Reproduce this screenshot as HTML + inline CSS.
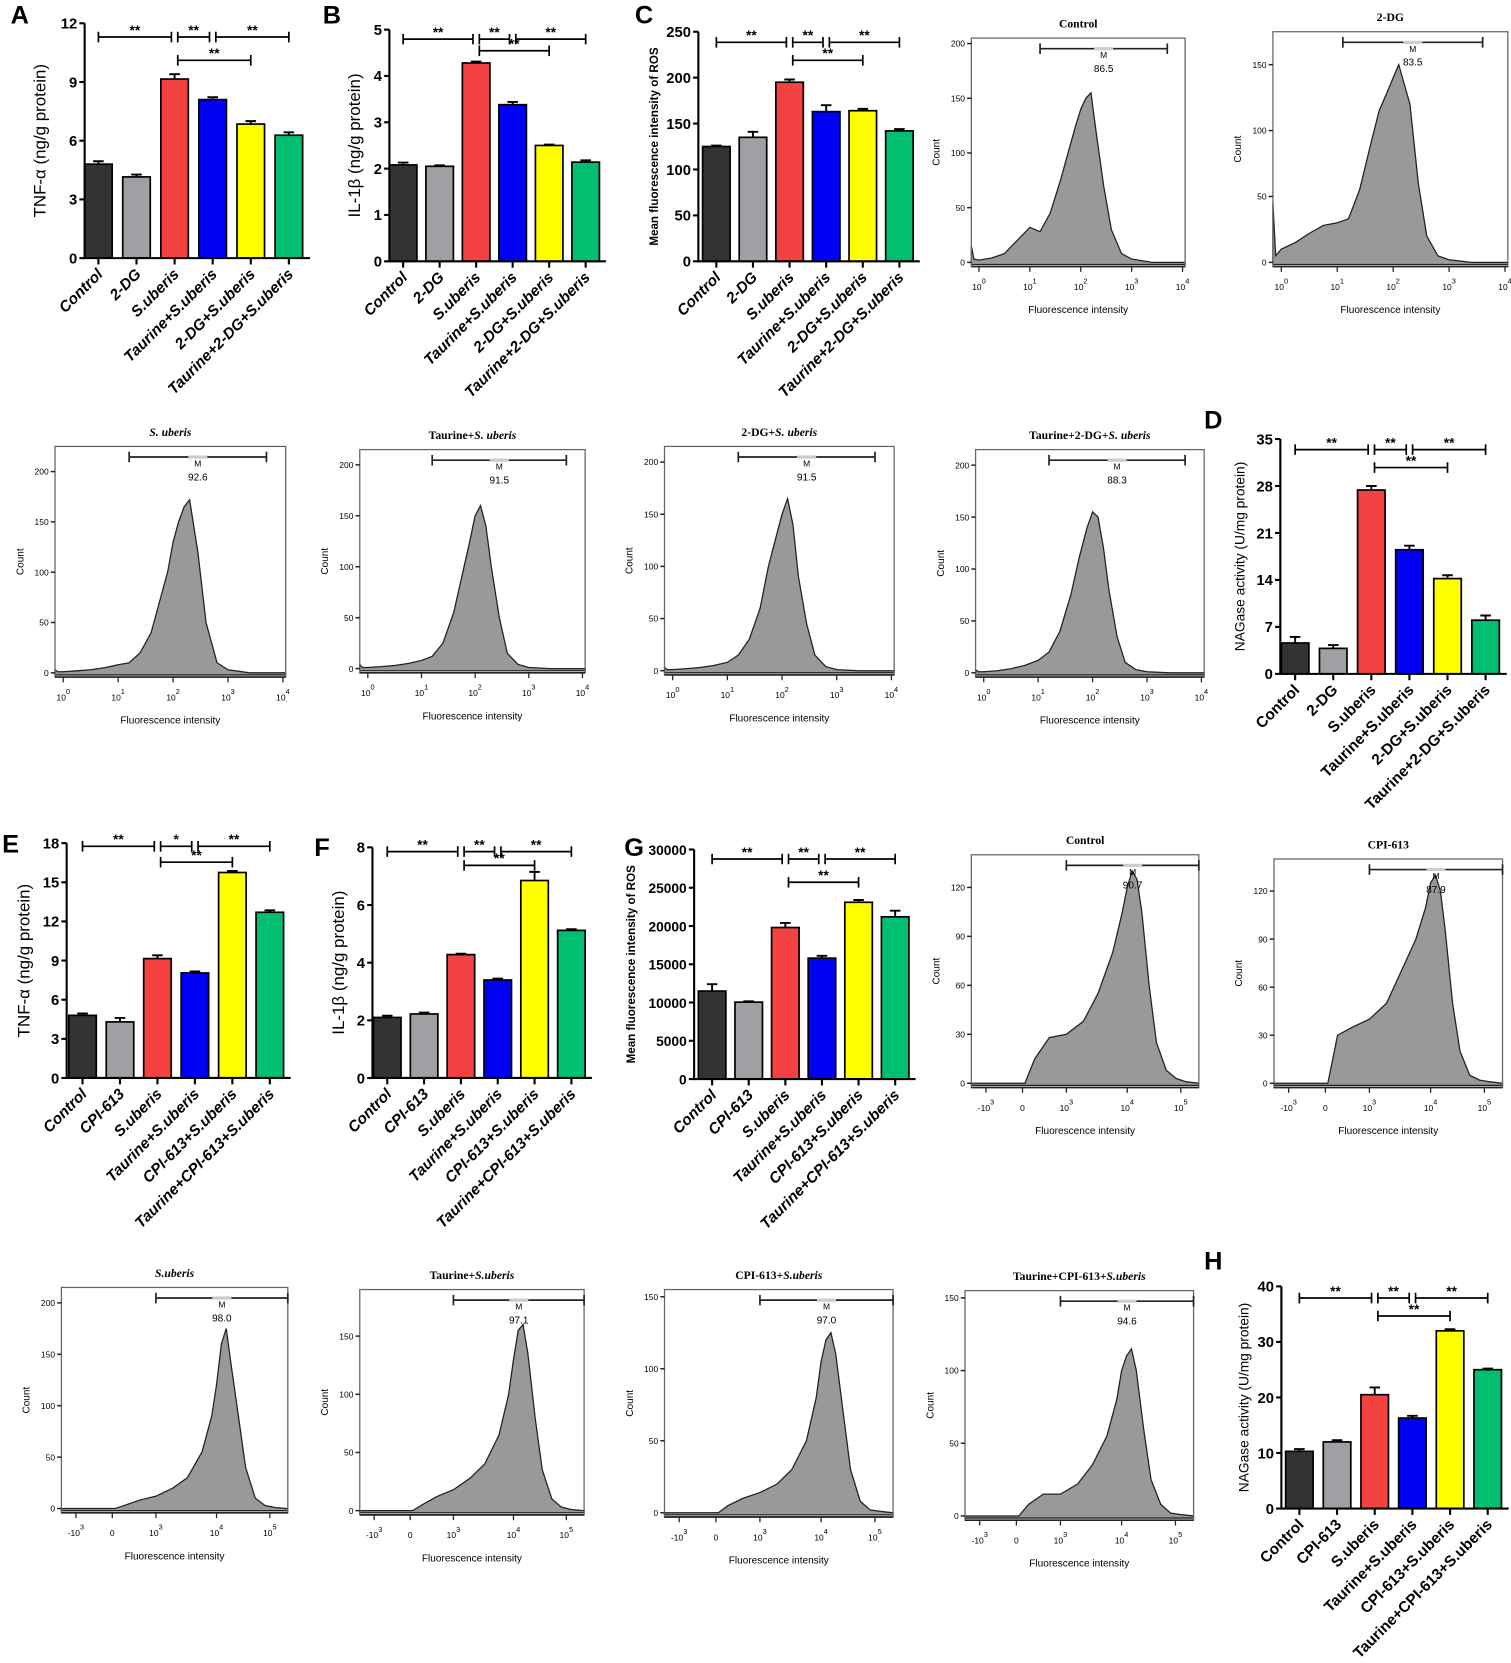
<!DOCTYPE html>
<html><head><meta charset="utf-8"><style>
html,body{margin:0;padding:0;background:#fff;}
svg{display:block;}
text{font-family:"Liberation Sans",sans-serif;}
.ser{font-family:"Liberation Serif",serif;}
</style></head><body>
<svg id="fig" xmlns="http://www.w3.org/2000/svg" width="1511" height="1663" viewBox="0 0 1428 1572" preserveAspectRatio="none"></svg>
<script>
// ---------- bar chart data ----------
const catsDG = ["Control","2-DG","S.uberis","Taurine+S.uberis","2-DG+S.uberis","Taurine+2-DG+S.uberis"];
const catsCPI = ["Control","CPI-613","S.uberis","Taurine+S.uberis","CPI-613+S.uberis","Taurine+CPI-613+S.uberis"];
const valsA = [4.8,4.15,9.15,8.1,6.85,6.28];
const errA  = [0.15,0.12,0.25,0.12,0.15,0.15];
const valsB = [2.08,2.05,4.28,3.38,2.5,2.14];
const errB  = [0.05,0.02,0.03,0.06,0.02,0.04];
const valsC = [125,135,195,163,164,142];
const errC  = [1,6,3,7,2,2];
const valsD = [4.6,3.8,27.4,18.5,14.2,8.0];
const errD  = [0.9,0.5,0.6,0.6,0.5,0.7];
const valsE = [4.8,4.3,9.15,8.05,15.75,12.7];
const errE  = [0.15,0.3,0.25,0.12,0.12,0.15];
const valsF = [2.1,2.22,4.28,3.4,6.85,5.12];
const errF  = [0.06,0.05,0.03,0.05,0.3,0.04];
const valsG = [11500,10050,19800,15800,23100,21200];
const errG  = [900,100,600,300,300,800];
const valsH = [10.3,12.0,20.5,16.3,32.0,25.0];
const errH  = [0.4,0.3,1.3,0.4,0.3,0.2];
const ticksA=[0,3,6,9,12], ticksB=[0,1,2,3,4,5], ticksC=[0,50,100,150,200,250], ticksD=[0,7,14,21,28,35];
const ticksE=[0,3,6,9,12,15,18], ticksF=[0,2,4,6,8], ticksG=[0,5000,10000,15000,20000,25000,30000], ticksH=[0,10,20,30,40];
// ---------- histogram data ----------
const logU = [-0.15,-0.1,0,0.25,0.5,0.75,1.0,1.2,1.4,1.6,1.75,1.9,2.0,2.1,2.2,2.3,2.45,2.6,2.8,3.0,3.4,4.05];
const hCtrl  = [15,3,2,4,8,20,32,28,45,75,100,125,140,150,155,120,70,30,8,3,0,0];
const h2DG   = [45,5,10,15,22,28,30,33,55,90,115,130,140,150,135,120,60,20,5,2,0,0];
const hSu1   = [3,1,1,2,3,5,8,10,20,40,70,100,130,150,165,172,120,50,10,3,0,0];
const hTSu1  = [4,1,1,2,3,5,8,12,25,55,90,125,150,160,140,100,50,15,4,1,0,0];
const hDGSu  = [3,1,1,2,3,5,8,15,30,60,100,130,150,165,140,90,45,15,4,1,0,0];
const hTDGSu = [3,1,1,2,4,7,12,20,40,75,110,140,155,150,120,80,35,10,3,1,0,0];
const biU = [-1.3,-0.4,-0.2,0,0.3,0.65,1.0,1.3,1.6,1.8,1.9,2.0,2.1,2.2,2.35,2.5,2.7,2.9,3.1,3.37];
const hCtrl2 = [0,0,0,15,28,30,38,55,80,105,120,130,125,105,60,25,8,3,1,0];
const hCPI   = [0,0,0,30,35,40,50,70,90,110,125,130,120,95,50,20,5,2,1,0];
const hSu2   = [0,0,0,3,8,12,20,30,55,90,120,160,175,140,90,40,10,3,1,0];
const hTSu2  = [0,0,0,5,12,18,28,40,65,100,130,155,160,135,80,35,10,3,1,0];
const hCSu   = [0,0,0,5,10,14,20,30,50,80,105,120,125,110,70,30,8,2,1,0];
const hTCSu  = [0,0,0,8,15,15,22,35,55,80,100,110,115,100,60,25,8,2,1,0];
const logTicks=[0,1,2,3,4], biTicks=[-1,-0.25,0.65,1.9,3.0], biLbl=[["-10","3"],["0",""],["10","3"],["10","4"],["10","5"]];

const NS="http://www.w3.org/2000/svg";
const svg=document.getElementById('fig');
function mk(tag,attrs,parent,txt){const e=document.createElementNS(NS,tag);for(const k in attrs)e.setAttribute(k,attrs[k]);if(txt!==undefined)e.textContent=txt;(parent||svg).appendChild(e);return e;}
const colors=["#333333","#a0a0a4","#f44242","#0000f5","#ffff00","#00bf70"];

function barChart(o){
  const g=mk('g',{});
  
  
  const y=v=>o.yb-(v/o.max)*(o.yb-o.yt);
  const cx=i=>o.x0+o.off+i*o.step;
  const xEnd=cx(5)+o.step/2+2;
  const lt=mk('text',{x:o.lx,y:o.ly,'font-size':24,'font-weight':'bold'},g,o.letter);
  
  o.vals.forEach((v,i)=>{
    const r=mk('rect',{x:cx(i)-13,y:y(v),width:26,height:o.yb-y(v),fill:colors[i],stroke:'#000','stroke-width':1.6},g);
    
    
    const e=o.err[i];
    mk('path',{d:`M${cx(i)} ${y(v)}V${y(v+e)}M${cx(i)-5} ${y(v+e)}H${cx(i)+5}`,stroke:'#000','stroke-width':1.8,fill:'none'},g);
  });
  const ax=mk('path',{d:`M${o.x0} ${o.yt}V${o.yb}H${xEnd}`,stroke:'#000','stroke-width':2,fill:'none'},g);
  
  o.ticks.forEach(t=>{mk('path',{d:`M${o.x0-5} ${y(t)}H${o.x0}`,stroke:'#000','stroke-width':2},g);
    mk('text',{x:o.x0-7,y:y(t)+5,'text-anchor':'end','font-size':o.tfs||14,'font-weight':'bold'},g,t);});
  o.cats.forEach((c,i)=>{mk('path',{d:`M${cx(i)} ${o.yb}V${o.yb+6}`,stroke:'#000','stroke-width':2},g);
    const t=mk('text',{x:cx(i)+5,y:o.yb+16,'text-anchor':'end','font-size':14.5,'font-weight':'bold','font-style':o.ital?'italic':'normal',transform:`rotate(-45 ${cx(i)+5} ${o.yb+16})`},g,c);
    });
  const yl=mk('text',{x:o.ylx,y:(o.yt+o.yb)/2,'text-anchor':'middle','font-size':o.ylfs,'font-weight':o.ylw||'normal',transform:`rotate(-90 ${o.ylx} ${(o.yt+o.yb)/2})`},g,o.ylabel);
  
  const br=[[0,2,o.b1,0],[2,3,o.b1,1],[3,5,o.b1,2],[2,4,o.b2,3]];
  br.forEach(([a,b,yy,k])=>{
    const xa=cx(a)+(k==1||k==2||k==3?3:0), xb=cx(b)-(k==0||k==1?3:0);
    mk('path',{d:`M${xa} ${yy-5}V${yy+5}M${xa} ${yy}H${xb}M${xb} ${yy-5}V${yy+5}`,stroke:'#000','stroke-width':1.6,fill:'none'},g);
    mk('text',{x:(xa+xb)/2,y:yy-2,'text-anchor':'middle','font-size':13,'font-weight':'bold'},g,(o.stars&&o.stars[k])||'**');
  });
}
function hist(o){
  const g=mk('g',{});
  
  
  const X=u=>o.x0+(u-o.dom[0])/(o.dom[1]-o.dom[0])*(o.x1-o.x0);
  const Y=c=>o.y1-4-(c/o.ymax)*(o.y1-4-o.y0);
  let d=`M${X(o.u[0])} ${o.y1-2}`;
  o.u.forEach((u,i)=>{d+=`L${X(u).toFixed(1)} ${Y(o.c[i]).toFixed(1)}`;});
  d+=`L${X(o.u[o.u.length-1])} ${o.y1-2}Z`;
  const p=mk('path',{d,fill:'#999',stroke:'#222','stroke-width':1.2},g);
  
  mk('rect',{x:o.x0,y:o.y0,width:o.x1-o.x0,height:o.y1-o.y0,fill:'none',stroke:'#666','stroke-width':1.2},g);
  mk('path',{d:`M${o.x0} ${o.y1}H${o.x1}`,stroke:'#222','stroke-width':1.6},g);
  const tt=mk('text',{x:(o.x0+o.x1)/2,y:o.y0-10,'text-anchor':'middle','font-size':11,'font-weight':'bold',class:'ser'},g);
  
  o.title.forEach(([s,it])=>{mk('tspan',{'font-style':it?'italic':'normal'},tt,s);});
  o.yt.forEach(t=>{mk('path',{d:`M${o.x0-4} ${Y(t)}H${o.x0}`,stroke:'#222','stroke-width':1.4},g);
    mk('text',{x:o.x0-6,y:Y(t)+3,'text-anchor':'end','font-size':8},g,t);});
  const ylx=o.x0-30;
  mk('text',{x:ylx,y:(o.y0+o.y1)/2,'text-anchor':'middle','font-size':9.5,transform:`rotate(-90 ${ylx} ${(o.y0+o.y1)/2})`},g,'Count');
  o.xt.forEach((t,i)=>{const tx=mk('text',{x:X(t),y:o.y1+22,'text-anchor':'middle','font-size':8},g,o.xl[i][0]);
    mk('tspan',{dy:-6,'font-size':7},tx,o.xl[i][1]);
    mk('path',{d:`M${X(t)} ${o.y1}V${o.y1+5}`,stroke:'#222','stroke-width':1.2},g);});
  mk('text',{x:(o.x0+o.x1)/2,y:o.y1+44,'text-anchor':'middle','font-size':9.5},g,'Fluorescence intensity');
  const gy=o.y0+10, ga=X(o.gate[0]), gb=Math.min(X(o.gate[1]),o.x1);
  mk('path',{d:`M${ga} ${gy-5}V${gy+5}M${ga} ${gy}H${gb}M${gb} ${gy-5}V${gy+5}`,stroke:'#222','stroke-width':1.6,fill:'none'},g);
  mk('rect',{x:(ga+gb)/2-9,y:gy-1.5,width:18,height:3,fill:'#ccc'},g);
  mk('text',{x:(ga+gb)/2,y:gy+9,'text-anchor':'middle','font-size':8},g,'M');
  mk('text',{x:(ga+gb)/2,y:gy+22,'text-anchor':'middle','font-size':9.5},g,o.mv);
}
const logL=[["10","0"],["10","1"],["10","2"],["10","3"],["10","4"]];
const ld=[-0.15,4.05], bd=[-1.3,3.37];
barChart({name:'panel-a-tnf',letter:'A',lx:10,ly:22,x0:80,off:13,step:36,yt:22,yb:244,max:12,ticks:ticksA,vals:valsA,err:errA,cats:catsDG,ital:true,ylabel:'TNF-α (ng/g protein)',ylx:43,ylfs:16,b1:35,b2:57});
barChart({name:'panel-b-il1b',letter:'B',lx:305,ly:22,x0:368,off:13,step:34.5,yt:28,yb:247,max:5,ticks:ticksB,vals:valsB,err:errB,cats:catsDG,ital:true,ylabel:'IL-1β (ng/g protein)',ylx:340,ylfs:16,b1:37,b2:48});
barChart({name:'panel-c-ros',letter:'C',lx:600,ly:22,x0:660,off:17,step:34.6,yt:30,yb:247,max:250,ticks:ticksC,vals:valsC,err:errC,cats:catsDG,ital:true,ylabel:'Mean fluorescence  intensity of ROS',ylx:622,ylfs:11,ylw:'bold',b1:40,b2:57});
barChart({name:'panel-d-nagase',letter:'D',lx:1138,ly:405,x0:1210,off:14,step:36,yt:415,yb:637,max:35,ticks:ticksD,vals:valsD,err:errD,cats:catsDG,ital:false,ylabel:'NAGase activity (U/mg protein)',ylx:1176,ylfs:13,b1:425,b2:442});
barChart({name:'panel-e-tnf',letter:'E',lx:2,ly:806,x0:63,off:15,step:35.4,yt:797,yb:1019,max:18,ticks:ticksE,vals:valsE,err:errE,cats:catsCPI,ital:true,ylabel:'TNF-α (ng/g protein)',ylx:28,ylfs:16,b1:800,b2:815,stars:['**','*','**','**']});
barChart({name:'panel-f-il1b',letter:'F',lx:297,ly:809,x0:352,off:14,step:34.8,yt:801,yb:1019,max:8,ticks:ticksF,vals:valsF,err:errF,cats:catsCPI,ital:true,ylabel:'IL-1β (ng/g protein)',ylx:325,ylfs:16,b1:805,b2:818});
barChart({name:'panel-g-ros',letter:'G',lx:590,ly:809,x0:656,off:17,step:34.6,yt:803,yb:1020,max:30000,ticks:ticksG,vals:valsG,err:errG,cats:catsCPI,ital:true,tfs:13,ylabel:'Mean fluorescence  intensity of ROS',ylx:600,ylfs:11,ylw:'bold',b1:812,b2:834});
barChart({name:'panel-h-nagase',letter:'H',lx:1138,ly:1200,x0:1211,off:17,step:35.6,yt:1216,yb:1426,max:40,ticks:ticksH,vals:valsH,err:errH,cats:catsCPI,ital:false,ylabel:'NAGase activity (U/mg protein)',ylx:1180,ylfs:13,b1:1227,b2:1244});

hist({name:'hist-control-dg',x0:918,y0:36,x1:1120,y1:252,ymax:205,yt:[0,50,100,150,200],dom:ld,u:logU,c:hCtrl,xt:logTicks,xl:logL,title:[['Control',0]],gate:[1.2,3.7],mv:'86.5'});
hist({name:'hist-2dg',x0:1203,y0:30,x1:1425,y1:252,ymax:175,yt:[0,50,100,150],dom:ld,u:logU,c:h2DG,xt:logTicks,xl:logL,title:[['2-DG',0]],gate:[1.1,3.6],mv:'83.5'});
hist({name:'hist-suberis-dg',x0:52,y0:422,x1:270,y1:640,ymax:225,yt:[0,50,100,150,200],dom:ld,u:logU,c:hSu1,xt:logTicks,xl:logL,title:[['S. uberis',1]],gate:[1.2,3.7],mv:'92.6'});
hist({name:'hist-taurine-suberis-dg',x0:340,y0:425,x1:553,y1:636,ymax:215,yt:[0,50,100,150,200],dom:ld,u:logU,c:hTSu1,xt:logTicks,xl:logL,title:[['Taurine+',0],['S. uberis',1]],gate:[1.2,3.7],mv:'91.5'});
hist({name:'hist-2dg-suberis',x0:628,y0:422,x1:845,y1:638,ymax:215,yt:[0,50,100,150,200],dom:ld,u:logU,c:hDGSu,xt:logTicks,xl:logL,title:[['2-DG+',0],['S. uberis',1]],gate:[1.2,3.7],mv:'91.5'});
hist({name:'hist-taurine-2dg-suberis',x0:922,y0:425,x1:1138,y1:640,ymax:215,yt:[0,50,100,150,200],dom:ld,u:logU,c:hTDGSu,xt:logTicks,xl:logL,title:[['Taurine+2-DG+',0],['S. uberis',1]],gate:[1.2,3.7],mv:'88.3'});
hist({name:'hist-control-cpi',x0:918,y0:808,x1:1133,y1:1028,ymax:140,yt:[0,30,60,90,120],dom:bd,u:biU,c:hCtrl2,xt:biTicks,xl:biLbl,title:[['Control',0]],gate:[0.65,4],mv:'90.7'});
hist({name:'hist-cpi613',x0:1204,y0:812,x1:1420,y1:1028,ymax:140,yt:[0,30,60,90,120],dom:bd,u:biU,c:hCPI,xt:biTicks,xl:biLbl,title:[['CPI-613',0]],gate:[0.65,4],mv:'87.9'});
hist({name:'hist-suberis-cpi',x0:58,y0:1217,x1:272,y1:1430,ymax:215,yt:[0,50,100,150,200],dom:bd,u:biU,c:hSu2,xt:biTicks,xl:biLbl,title:[['S.uberis',1]],gate:[0.65,4],mv:'98.0'});
hist({name:'hist-taurine-suberis-cpi',x0:340,y0:1219,x1:552,y1:1432,ymax:190,yt:[0,50,100,150],dom:bd,u:biU,c:hTSu2,xt:biTicks,xl:biLbl,title:[['Taurine+',0],['S.uberis',1]],gate:[0.65,4],mv:'97.1'});
hist({name:'hist-cpi613-suberis',x0:628,y0:1219,x1:844,y1:1434,ymax:155,yt:[0,50,100,150],dom:bd,u:biU,c:hCSu,xt:biTicks,xl:biLbl,title:[['CPI-613+',0],['S.uberis',1]],gate:[0.65,4],mv:'97.0'});
hist({name:'hist-taurine-cpi613-suberis',x0:912,y0:1220,x1:1128,y1:1437,ymax:155,yt:[0,50,100,150],dom:bd,u:biU,c:hTCSu,xt:biTicks,xl:biLbl,title:[['Taurine+CPI-613+',0],['S.uberis',1]],gate:[0.65,4],mv:'94.6'});
</script>
</body></html>
